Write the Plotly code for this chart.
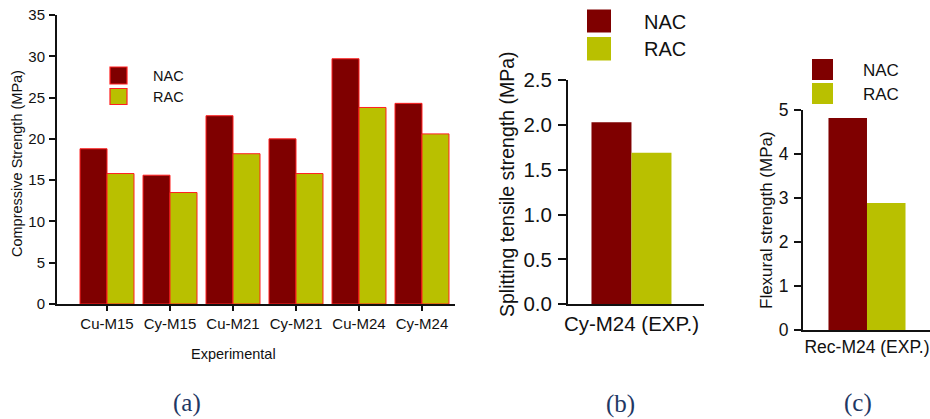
import plotly.graph_objects as go

# ---- data -------------------------------------------------------------
mixes = ["Cu-M15", "Cy-M15", "Cu-M21", "Cy-M21", "Cu-M24", "Cy-M24"]
compressive_nac = [18.8, 15.6, 22.8, 20.0, 29.7, 24.3]
compressive_rac = [15.8, 13.5, 18.2, 15.8, 23.8, 20.6]

split_case = ["Cy-M24 (EXP.)"]
split_nac = [2.03]
split_rac = [1.69]

flex_case = ["Rec-M24 (EXP.)"]
flex_nac = [4.82]
flex_rac = [2.89]

series_names = ["NAC", "RAC"]
panel_tags = ["(a)", "(b)", "(c)"]

# ---- styling ----------------------------------------------------------
W, H = 930, 419
NAC_COLOR = "#7f0000"
RAC_COLOR = "#b9c000"
EDGE_RED = "#ff2020"
AXIS_COLOR = "#111111"
TEXT_COLOR = "#111111"
TAG_COLOR = "#1f3864"
SANS = "Liberation Sans"
SERIF = "Liberation Serif"


def px_x(x):
    return x / W


def px_y(y):
    return 1 - y / H


fig = go.Figure()

# panel (a): compressive strength, outlined bars
fig.add_bar(x=mixes, y=compressive_nac, name=series_names[0], xaxis="x", yaxis="y",
            marker=dict(color=NAC_COLOR, line=dict(color=EDGE_RED, width=1)))
fig.add_bar(x=mixes, y=compressive_rac, name=series_names[1], xaxis="x", yaxis="y",
            marker=dict(color=RAC_COLOR, line=dict(color=EDGE_RED, width=1)))

# panel (b): splitting tensile strength
fig.add_bar(x=split_case, y=split_nac, name=series_names[0], xaxis="x2", yaxis="y2",
            marker=dict(color=NAC_COLOR, line=dict(width=0)))
fig.add_bar(x=split_case, y=split_rac, name=series_names[1], xaxis="x2", yaxis="y2",
            marker=dict(color=RAC_COLOR, line=dict(width=0)))

# panel (c): flexural strength
fig.add_bar(x=flex_case, y=flex_nac, name=series_names[0], xaxis="x3", yaxis="y3",
            marker=dict(color=NAC_COLOR, line=dict(width=0)))
fig.add_bar(x=flex_case, y=flex_rac, name=series_names[1], xaxis="x3", yaxis="y3",
            marker=dict(color=RAC_COLOR, line=dict(width=0)))


def x_axis(domain, rng, size, ticks, anchor):
    return dict(domain=domain, range=rng, anchor=anchor, showline=True,
                linecolor=AXIS_COLOR, linewidth=2, ticks=ticks, ticklen=5,
                tickwidth=1.5, tickcolor=AXIS_COLOR, showgrid=False,
                zeroline=False, fixedrange=True, automargin=False,
                tickfont=dict(family=SANS, size=size, color=TEXT_COLOR))


def y_axis(domain, rng, dtick, size, ticklen, anchor, fmt=None, standoff=0):
    d = dict(domain=domain, range=rng, anchor=anchor, dtick=dtick, tick0=0,
             showline=True, linecolor=AXIS_COLOR, linewidth=2, ticks="outside",
             ticklen=ticklen, tickwidth=1.5, tickcolor=AXIS_COLOR,
             showgrid=False, zeroline=False, fixedrange=True, automargin=False,
             ticklabelstandoff=standoff,
             tickfont=dict(family=SANS, size=size, color=TEXT_COLOR))
    if fmt:
        d["tickformat"] = fmt
    return d


fig.update_layout(
    template="none",
    width=W, height=H, autosize=False,
    margin=dict(l=0, r=0, t=0, b=0, pad=0, autoexpand=False),
    paper_bgcolor="white", plot_bgcolor="white",
    font=dict(family=SANS, color=TEXT_COLOR),
    barmode="group", bargap=0.143, bargroupgap=0,
    showlegend=False,
    xaxis=x_axis([px_x(57), px_x(455)], [-0.794, 5.524], 15, "outside", "y"),
    yaxis=y_axis([px_y(304), px_y(15)], [0, 35], 5, 15, 6, "x", standoff=1),
    xaxis2=x_axis([px_x(568), px_x(704)], [-0.680, 0.777], 20.5, "", "y2"),
    yaxis2=y_axis([px_y(304.3), px_y(80)], [0, 2.5], 0.5, 20.5, 8, "x2", ".1f", 2),
    xaxis3=x_axis([px_x(803), 1.0], [-0.712, 0.701], 17.5, "", "y3"),
    yaxis3=y_axis([px_y(330.3), px_y(110)], [0, 5], 1, 17.5, 7, "x3", standoff=2),
)

shapes = []
annotations = []


def legend_block(x0, x1, rows, size, outline, text_x):
    # rows: list of (y_top, y_bottom, text_center_y)
    colors = [NAC_COLOR, RAC_COLOR]
    for (top, bottom, ty), col, label in zip(rows, colors, series_names):
        shapes.append(dict(type="rect", xref="paper", yref="paper",
                           x0=px_x(x0), x1=px_x(x1), y0=px_y(bottom), y1=px_y(top),
                           fillcolor=col,
                           line=dict(color=EDGE_RED if outline else col,
                                     width=1.2 if outline else 0)))
        annotations.append(dict(xref="paper", yref="paper", x=px_x(text_x), y=px_y(ty),
                                text=label, showarrow=False, xanchor="left",
                                yanchor="middle",
                                font=dict(family=SANS, size=size, color=TEXT_COLOR)))


legend_block(110, 127, [(67, 84, 75.5), (88.5, 104.5, 97)], 14.5, True, 151)
legend_block(587, 611, [(9.5, 32.5, 21.5), (37, 60.5, 48.5)], 20, False, 642)
legend_block(812, 833, [(59, 80, 70), (83, 104, 94)], 17, False, 861)


def axis_title(text, x, y, size, angle=-90):
    annotations.append(dict(xref="paper", yref="paper", x=px_x(x), y=px_y(y),
                            text=text, showarrow=False, textangle=angle,
                            xanchor="center", yanchor="middle",
                            font=dict(family=SANS, size=size, color=TEXT_COLOR)))


axis_title("Compressive Strength (MPa)", 17, 164, 14.5)
axis_title("Experimental", 233, 354, 14.5, angle=0)
axis_title("Splitting tensile strength (MPa)", 507, 184, 19.5)
axis_title("Flexural strength (MPa)", 766, 220, 17)

for tag, (tx, ty) in zip(panel_tags, [(187, 403), (620, 404), (858, 403)]):
    annotations.append(dict(xref="paper", yref="paper", x=px_x(tx), y=px_y(ty),
                            text=tag, showarrow=False, xanchor="center",
                            yanchor="middle",
                            font=dict(family=SERIF, size=25, color=TAG_COLOR)))

fig.update_layout(shapes=shapes, annotations=annotations)

fig.write_html("out.html", config={"displayModeBar": False})
